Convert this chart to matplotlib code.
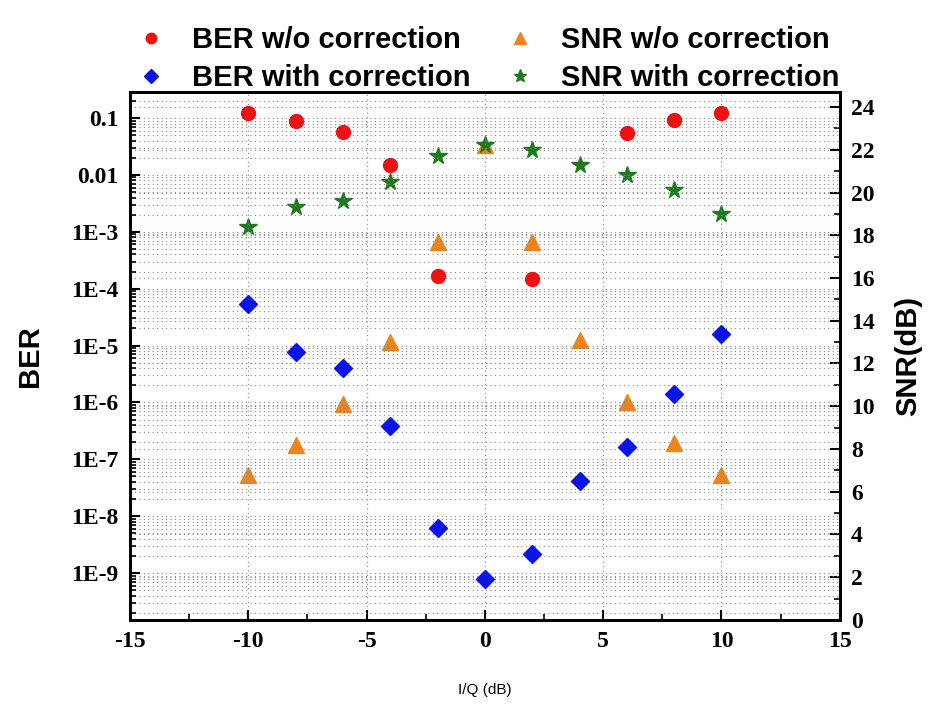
import matplotlib
matplotlib.use("Agg")
import matplotlib.pyplot as plt
from matplotlib.ticker import LogLocator, MultipleLocator, FuncFormatter

# ---- data ----
iq_db = [-10, -8, -6, -4, -2, 0, 2, 4, 6, 8, 10]
ber_wo_x = [-10, -8, -6, -4, -2, 2, 6, 8, 10]
ber_wo = [0.122, 0.089, 0.057, 0.0149, 1.7e-4, 1.5e-4, 0.055, 0.092, 0.122]
ber_with = [5.4e-5, 7.8e-6, 4.1e-6, 3.9e-7, 6.2e-9, 8.0e-10, 2.2e-9, 4.2e-8, 1.66e-7, 1.4e-6, 1.6e-5]
snr_wo = [6.8, 8.2, 10.1, 13.0, 17.7, 22.2, 17.7, 13.1, 10.2, 8.3, 6.8]
snr_with = [18.4, 19.3, 19.6, 20.5, 21.7, 22.2, 22.0, 21.3, 20.8, 20.1, 19.0]
ber_ticks = [1e-1, 1e-2, 1e-3, 1e-4, 1e-5, 1e-6, 1e-7, 1e-8, 1e-9]
ber_tick_labels = ["0.1", "0.01", "1E-3", "1E-4", "1E-5", "1E-6", "1E-7", "1E-8", "1E-9"]
snr_ticks = [0, 2, 4, 6, 8, 10, 12, 14, 16, 18, 20, 22, 24]
x_ticks = [-15, -10, -5, 0, 5, 10, 15]

fig = plt.figure(figsize=(9.31, 7.08), dpi=100)
ax = fig.add_axes([0.1396, 0.1243, 0.7624, 0.7457])
ax2 = ax.twinx()
ax.set_zorder(ax2.get_zorder() + 1)
ax.patch.set_visible(False)

tickfont = dict(family="Liberation Serif", weight="bold", size=17)
gridkw = dict(color="#8a8a8a", linestyle=(0, (1, 3)), linewidth=0.8)

# left axis (BER)
ax.set_yscale("log")
ax.set_xlim(-15, 15)
ax.set_ylim(1.5e-10, 0.286)
ax.set_yticks(ber_ticks)
ax.set_yticklabels(ber_tick_labels, fontdict=tickfont)
ax.yaxis.set_minor_locator(LogLocator(base=10, subs=range(2, 10), numticks=20))
ax.yaxis.set_minor_formatter(FuncFormatter(lambda v, p: ""))
ax.set_xticks(x_ticks)
ax.set_xticklabels([str(v) for v in x_ticks], fontdict=tickfont)
ax.xaxis.set_minor_locator(MultipleLocator(2.5))
ax.grid(True, which="major", **gridkw)
ax.yaxis.grid(True, which="minor", **gridkw)

# right axis (SNR)
ax2.set_ylim(0, 24.7)
ax2.set_yticks(snr_ticks)
ax2.set_yticklabels([str(v) for v in snr_ticks], fontdict=tickfont)
ax2.yaxis.set_minor_locator(MultipleLocator(1))
ax2.grid(True, which="major", **gridkw)

for a in (ax, ax2):
    for s in a.spines.values():
        s.set_linewidth(2)
    a.tick_params(which="major", direction="in", length=7, width=1.5)
    a.tick_params(which="minor", direction="in", length=4, width=1.2)
ax.tick_params(axis="y", right=False, pad=8)
ax.tick_params(axis="x", top=False, pad=8)
ax2.tick_params(axis="y", pad=8)

h3, = ax2.plot(iq_db, snr_wo, linestyle="none", marker="^", color="#f08418", markersize=11, label="SNR w/o correction")
h4, = ax2.plot(iq_db, snr_with, linestyle="none", marker="*", color="#1e7a1e", markersize=13, label="SNR with correction")
h1, = ax.plot(ber_wo_x, ber_wo, linestyle="none", marker="o", color="#ee1111", markersize=10, label="BER w/o correction")
h2, = ax.plot(iq_db, ber_with, linestyle="none", marker="D", color="#0a14e6", markersize=9, label="BER with correction")

ax.set_ylabel("BER", fontsize=21, fontweight="bold", family="Liberation Sans", labelpad=20)
ax2.set_ylabel("SNR(dB)", fontsize=21, fontweight="bold", family="Liberation Sans", labelpad=14)
ax.set_xlabel("I/Q (dB)", fontsize=11, family="Liberation Sans", labelpad=22)

fig.legend(handles=[h1, h2, h3, h4], ncol=2, loc="upper left", bbox_to_anchor=(0.115, 1.0),
           frameon=False, prop=dict(family="Liberation Sans", weight="bold", size=21),
           handlelength=1.2, handletextpad=0.8, columnspacing=1.1, labelspacing=0.35, markerscale=0.75)

fig.savefig("out.png", dpi=100)
